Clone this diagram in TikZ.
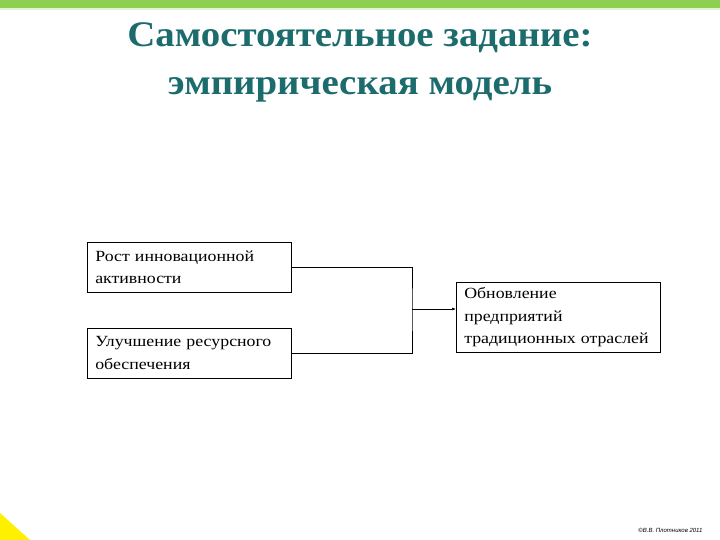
\documentclass[tikz,border=0pt]{standalone}
\usepackage{fontspec}
\setmainfont{Liberation Serif}
\setsansfont{Liberation Sans}
\newfontfamily\boxfont{Liberation Serif}[FakeStretch=1.15]
\newfontfamily\titlefont{Liberation Serif}[FakeStretch=1.08]
\usepackage{xcolor}
\usetikzlibrary{positioning,arrows.meta,calc}
\definecolor{bargreen}{RGB}{141,207,80}
\definecolor{titleteal}{RGB}{28,108,110}
\definecolor{cornyellow}{RGB}{255,240,0}

\begin{document}
\begin{tikzpicture}[x=1pt,y=-1pt,>={Latex[length=4pt,width=3pt]},
   fbox/.style={draw, semithick, align=left, text width=188pt, inner xsep=8pt, inner ysep=4pt,
               minimum height=50pt, font=\boxfont\fontsize{15.5}{22.5}\selectfont},
   ttl/.style={font=\titlefont\fontsize{36}{48}\selectfont\bfseries, text=titleteal, align=center}]
  \useasboundingbox (0,0) rectangle (720,540);
  \fill[white] (0,0) rectangle (720,540);
  % top bar and corner
  \fill[bargreen] (0,0) rectangle (720,8);
  \fill[bargreen!25] (0,8) rectangle (720,10);
  \fill[cornyellow] (0,513) -- (30,540) -- (0,540) -- cycle;
  \node[ttl] (title) at (360,62) {Самостоятельное задание:\\эмпирическая модель};
  % boxes
  \node[fbox, anchor=north west] (rost) at (87,242) {Рост инновационной\\активности};
  \node[fbox, below=35pt of rost] (resurs) {Улучшение ресурсного\\обеспечения};
  \node[fbox, minimum height=70pt, text width=188pt, anchor=north west] (obnov) at (456,282)
    {Обновление\\предприятий\\традиционных отраслей};
  \coordinate (join) at (412,309);
  \draw[semithick] (rost.east) -| (join) |- (resurs.east);
  \draw[semithick,->] (join) -- (join -| obnov.west);
  \node[font=\sffamily\itshape\fontsize{6}{7}\selectfont, anchor=east] (copy) at (706,530) {©В.В. Плотников 2011};
\end{tikzpicture}
\end{document}
